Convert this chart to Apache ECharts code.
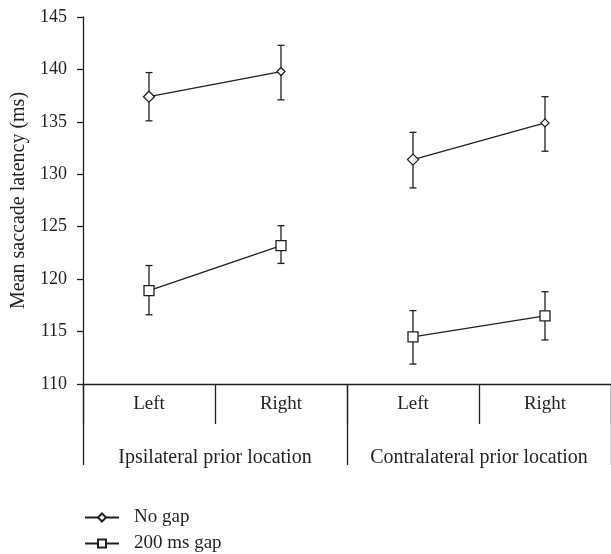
<!DOCTYPE html>
<html>
<head>
<meta charset="utf-8">
<script src="https://cdn.jsdelivr.net/npm/echarts@6/dist/echarts.min.js"></script>
<style>
  html, body { margin: 0; padding: 0; background: #fff; }
  #chart { width: 611px; height: 554px; }
</style>
</head>
<body>
<div id="chart"></div>
<script>
// 数据
const categories = ["Left", "Right", "Left", "Right"];
const groups = ["Ipsilateral prior location", "Contralateral prior location"];
const yTicks = [110, 115, 120, 125, 130, 135, 140, 145];
const noGap = [137.4, 139.8, 131.4, 134.9];
const noGapLow = [135.1, 137.1, 128.7, 132.2];
const noGapHigh = [139.7, 142.3, 134.0, 137.4];
const gap200 = [118.9, 123.2, 114.5, 116.5];
const gap200Low = [116.6, 121.5, 111.9, 114.2];
const gap200High = [121.3, 125.1, 117.0, 118.8];

const ink = "#231f20";
const font = "Liberation Serif";

// 两组之间断开连线
function pairs(vals) {
  return [[0, vals[0]], [1, vals[1]], "-", [2, vals[2]], [3, vals[3]]];
}

function errData(low, high) {
  return low.map((l, i) => [i, l, high[i]]);
}

function errorBars(data) {
  return {
    type: "custom",
    z: 1,
    silent: true,
    data: data,
    renderItem(params, api) {
      const top = api.coord([api.value(0), api.value(2)]);
      const bot = api.coord([api.value(0), api.value(1)]);
      const w = 3.5;
      const style = { stroke: ink, lineWidth: 1.3 };
      return {
        type: "group",
        children: [
          { type: "line", shape: { x1: top[0], y1: top[1], x2: bot[0], y2: bot[1] }, style },
          { type: "line", shape: { x1: top[0] - w, y1: top[1], x2: top[0] + w, y2: top[1] }, style },
          { type: "line", shape: { x1: bot[0] - w, y1: bot[1], x2: bot[0] + w, y2: bot[1] }, style }
        ]
      };
    }
  };
}

const chart = echarts.init(document.getElementById("chart"));
chart.setOption({
  animation: false,
  textStyle: { fontFamily: font },
  grid: { left: 83, width: 531, top: 17, bottom: 170, containLabel: false },
  legend: {
    orient: "vertical",
    left: 84,
    top: 508,
    padding: 0,
    itemWidth: 34,
    itemHeight: 10,
    itemGap: 7,
    textStyle: { fontFamily: font, fontSize: 19, color: ink, padding: [0, 0, 0, 10] },
    data: ["No gap", "200 ms gap"]
  },
  xAxis: [
    {
      type: "category",
      data: categories,
      boundaryGap: true,
      axisLine: { lineStyle: { color: ink, width: 1.3 } },
      axisTick: { show: true, interval: 0, length: 40, lineStyle: { color: ink, width: 1.3 } },
      axisLabel: { color: ink, fontSize: 19, margin: 11, interval: 0, fontFamily: font }
    },
    {
      type: "category",
      data: groups,
      position: "bottom",
      boundaryGap: true,
      axisLine: { show: false },
      axisTick: { show: true, interval: 0, length: 81, lineStyle: { color: ink, width: 1.3 } },
      axisLabel: { color: ink, fontSize: 20, margin: 64, interval: 0, fontFamily: font }
    }
  ],
  yAxis: {
    type: "value",
    min: yTicks[0],
    max: yTicks[yTicks.length - 1],
    interval: 5,
    name: "Mean saccade latency (ms)",
    nameLocation: "middle",
    nameGap: 54,
    nameTextStyle: { color: ink, fontSize: 20, fontFamily: font },
    axisLine: { show: true, lineStyle: { color: ink, width: 1.3 } },
    axisTick: { show: true, length: 6, lineStyle: { color: ink, width: 1.3 } },
    axisLabel: { color: ink, fontSize: 18, margin: 16, fontFamily: font },
    splitLine: { show: false }
  },
  series: [
    errorBars(errData(noGapLow, noGapHigh)),
    errorBars(errData(gap200Low, gap200High)),
    {
      name: "No gap",
      type: "line",
      z: 3,
      data: pairs(noGap),
      symbol: "diamond",
      symbolSize: (v) => (v[0] % 2 === 0 ? 11 : 8),
      lineStyle: { color: ink, width: 1.3 },
      itemStyle: { color: "#fff", borderColor: ink, borderWidth: 1.3 }
    },
    {
      name: "200 ms gap",
      type: "line",
      z: 3,
      data: pairs(gap200),
      symbol: "rect",
      symbolSize: 10,
      lineStyle: { color: ink, width: 1.3 },
      itemStyle: { color: "#fff", borderColor: ink, borderWidth: 1.3 }
    }
  ]
});
</script>
</body>
</html>
